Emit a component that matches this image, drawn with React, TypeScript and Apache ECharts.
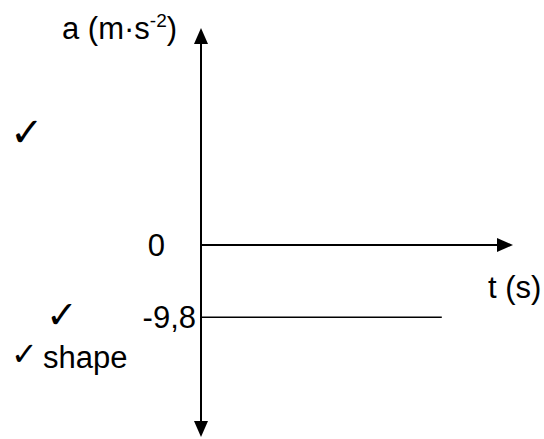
import React, { useEffect, useRef } from 'react';
import * as echarts from 'echarts';

// Data
const tValues = [0, 8];
const aValues = [-9.8, -9.8];
const tickValues = [0, -9.8];
const tickLabels = ['0', '-9,8'];
const tMax = 10.1;
const aMin = -25;
const aMax = 28.4;

const FONT = "'Liberation Sans', Arial, sans-serif";
const CHECK_FONT = "'DejaVu Sans', sans-serif";

export default function App() {
  const ref = useRef<HTMLDivElement>(null);
  useEffect(() => {
    document.body.style.margin = '0';
    const chart = echarts.init(ref.current!, null, { renderer: 'svg' });
    const hidden = {
      axisTick: { show: false },
      splitLine: { show: false },
    };
    chart.setOption({
      animation: false,
      backgroundColor: '#fff',
      grid: { left: 201, right: 39, top: 36, bottom: 10 },
      xAxis: {
        type: 'value',
        ...hidden,
        axisLabel: { show: false },
        min: 0,
        max: tMax,
        axisLine: {
          onZero: true,
          lineStyle: { color: '#000', width: 2 },
          symbol: ['none', 'triangle'],
          symbolSize: [14, 16],
        },
      },
      yAxis: {
        type: 'value',
        ...hidden,
        min: aMin,
        max: aMax,
        axisLine: {
          onZero: true,
          lineStyle: { color: '#000', width: 2 },
          symbol: ['triangle', 'triangle'],
          symbolSize: [14, 16],
        },
        axisLabel: {
          show: true,
          customValues: tickValues,
          margin: 5,
          fontSize: 31,
          fontFamily: FONT,
          color: '#000',
          formatter: (v: number) => {
            const i = tickValues.findIndex((t) => Math.abs(t - v) < 1e-6);
            if (i < 0) return '';
            return i === 0 ? '{z|' + tickLabels[i] + '}' : tickLabels[i];
          },
          rich: {
            z: { fontSize: 31, fontFamily: FONT, color: '#000', padding: [0, 31, 0, 0] },
          },
        },
      },
      series: [
        {
          type: 'line',
          data: tValues.map((t, i) => [t, aValues[i]]),
          symbol: 'none',
          lineStyle: { color: '#000', width: 1.5 },
          silent: true,
        },
      ],
      graphic: [
        {
          type: 'text',
          x: 62,
          y: 28,
          style: {
            text: '{n|a (m·s}{s|-2}{n|)}',
            verticalAlign: 'middle',
            rich: {
              n: { fontSize: 31, fontFamily: FONT, fill: '#000', lineHeight: 34 },
              s: { fontSize: 19, fontFamily: FONT, fill: '#000', verticalAlign: 'top', lineHeight: 20 },
            },
          },
        },
        {
          type: 'text',
          x: 488,
          y: 287,
          style: { text: 't (s)', fontSize: 31, fontFamily: FONT, fill: '#000', verticalAlign: 'middle' },
        },
        {
          type: 'text',
          x: 10,
          y: 132,
          style: { text: '✓', fontSize: 40, fontFamily: CHECK_FONT, fill: '#000', verticalAlign: 'middle' },
        },
        {
          type: 'text',
          x: 46,
          y: 315,
          style: { text: '✓', fontSize: 38, fontFamily: CHECK_FONT, fill: '#000', verticalAlign: 'middle' },
        },
        {
          type: 'text',
          x: 11,
          y: 354,
          style: { text: '✓', fontSize: 32, fontFamily: CHECK_FONT, fill: '#000', verticalAlign: 'middle' },
        },
        {
          type: 'text',
          x: 43,
          y: 357,
          style: { text: 'shape', fontSize: 31, fontFamily: FONT, fill: '#000', verticalAlign: 'middle' },
        },
      ],
    });
    return () => chart.dispose();
  }, []);
  return <div ref={ref} style={{ width: 544, height: 439 }} />;
}
